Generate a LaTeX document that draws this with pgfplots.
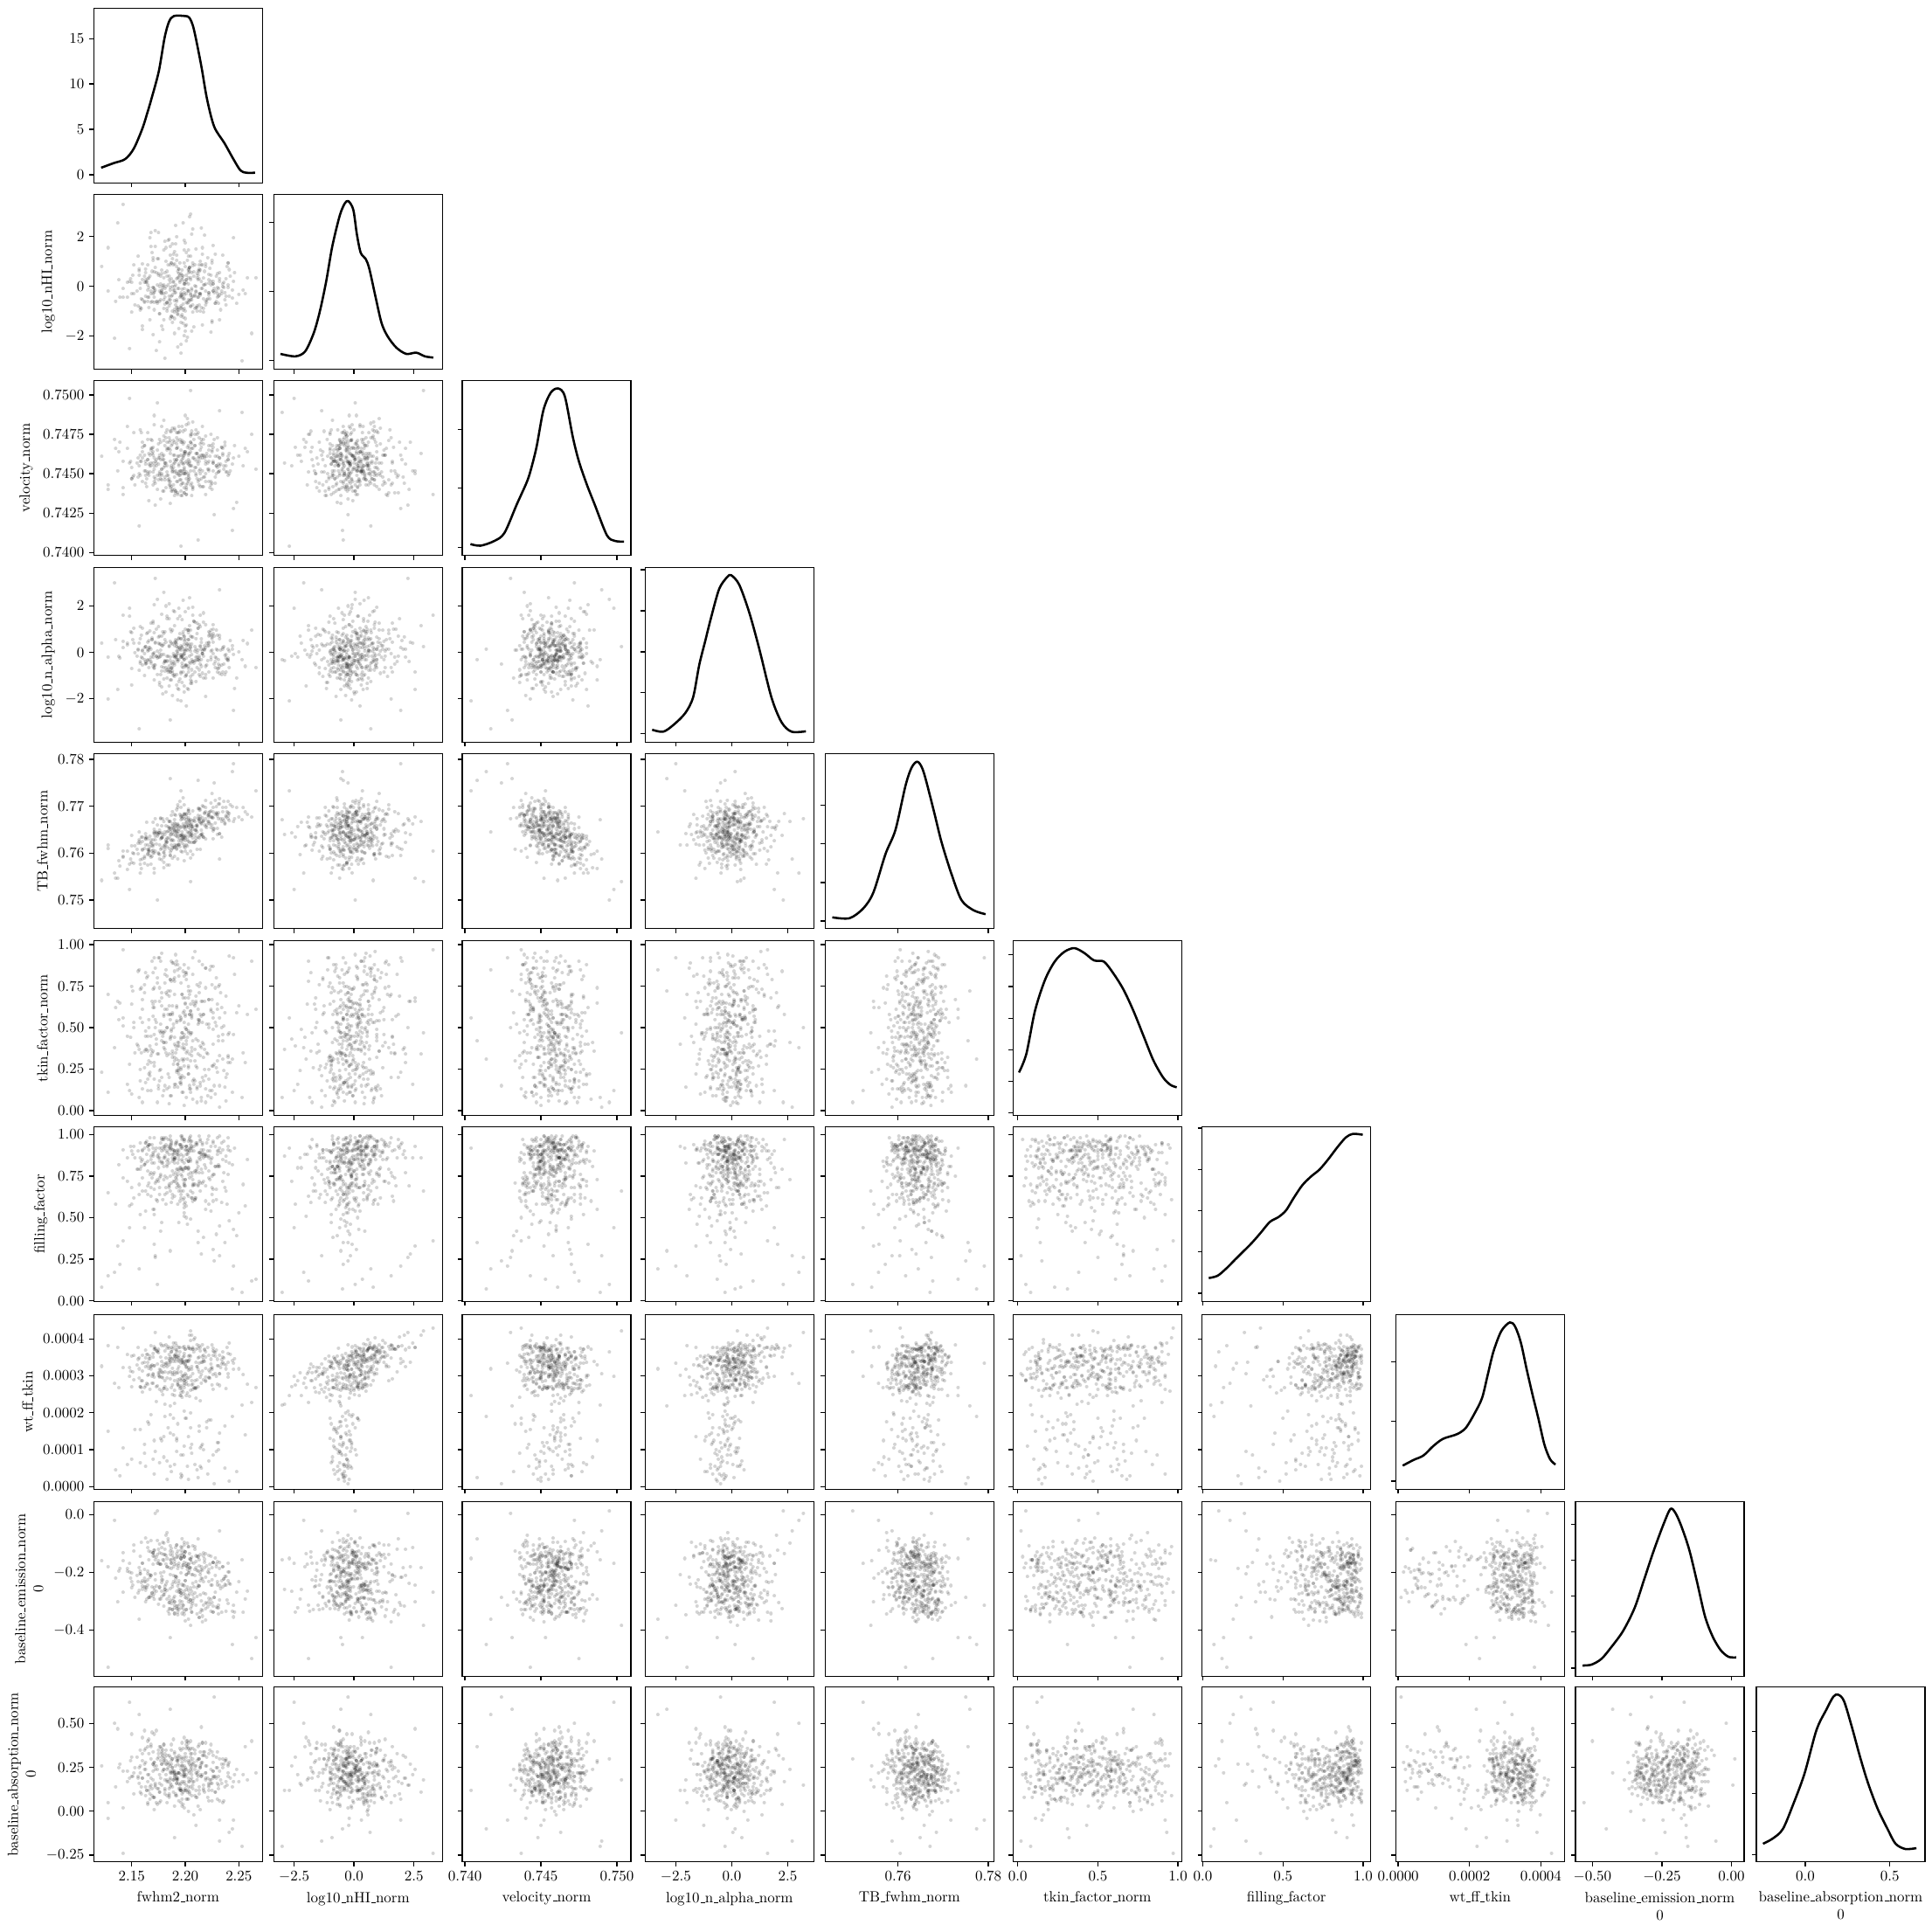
\documentclass[border=0pt]{standalone}
\usepackage{pgfplots}
\usepackage{pgfplotstable}
\pgfplotsset{compat=1.18}
\def\pu{0.59pt}
\newcommand{\us}{\leavevmode\kern.06em\vbox{\hrule width.3em}}
\pgfdeclareplotmark{dot}{\pgfpathmoveto{\pgfqpoint{-0.01pt}{0pt}}\pgfpathlineto{\pgfqpoint{0.01pt}{0pt}}\pgfusepathqstroke}
\pgfplotstableread{
F N V A T K P W E B
2.201 0.28 0.7451 -0.57 0.7665 0.42 0.88 2.84 -0.179 0.21
2.176 -1.12 0.7472 0.35 0.7588 0.18 0.64 3.17 -0.252 0.05
2.213 0.85 0.7446 1.20 0.7695 0.71 0.72 3.81 -0.157 0.12
2.232 -0.35 0.7460 -0.90 0.7641 0.33 0.45 1.45 -0.296 0.30
2.158 0.12 0.7449 0.60 0.7621 0.56 0.79 2.70 -0.145 0.26
2.224 -1.85 0.7475 -0.20 0.7654 0.08 0.93 3.21 -0.334 0.38
2.199 1.45 0.7438 0.15 0.7703 0.88 0.71 2.86 -0.106 0.17
2.158 -0.95 0.7478 -0.48 0.7557 0.25 0.52 0.65 -0.205 0.22
2.206 0.55 0.7455 -1.35 0.7656 0.47 0.62 3.25 -0.337 0.09
2.171 -0.08 0.7481 2.05 0.7558 0.62 0.34 3.78 -0.124 0.44
2.232 0.31 0.7452 0.72 0.7717 0.15 0.81 3.05 -0.246 -0.05
2.193 -2.45 0.7467 -0.05 0.7635 0.39 0.58 2.75 -0.337 0.31
2.187 0.95 0.7442 -0.66 0.7652 0.78 0.92 3.76 -0.168 0.15
2.142 -0.10 0.7441 0.20 0.7591 0.51 0.74 1.05 -0.131 0.02
2.148 0.18 0.7457 1.55 0.7577 0.28 0.57 3.22 -0.200 0.19
2.215 2.35 0.7470 0.42 0.7640 0.66 0.28 3.37 -0.180 0.27
2.198 -0.72 0.7444 0.88 0.7718 0.11 0.87 3.36 -0.315 0.11
2.179 0.02 0.7461 -1.80 0.7640 0.45 0.61 2.49 -0.096 0.35
2.248 -0.70 0.7432 -1.10 0.7697 0.59 0.39 0.40 -0.270 0.24
2.241 0.67 0.7463 0.05 0.7685 0.93 0.83 3.89 -0.239 -0.12
2.167 -1.35 0.7451 -0.32 0.7636 0.21 0.76 2.64 -0.208 0.14
2.202 1.05 0.7485 0.97 0.7599 0.36 0.90 3.38 -0.100 0.40
2.171 -0.20 0.7487 -1.20 0.7568 0.74 0.55 1.25 -0.294 0.28
2.185 0.42 0.7466 0.28 0.7653 0.04 0.69 3.57 -0.185 0.08
2.226 -0.18 0.7457 -1.10 0.7652 0.49 0.67 3.03 -0.317 0.20
2.181 1.80 0.7448 -0.40 0.7613 0.82 0.86 3.11 -0.119 0.33
2.194 -0.95 0.7456 0.62 0.7659 0.30 0.47 3.38 -0.229 0.16
2.138 0.25 0.7464 -0.18 0.7584 0.55 0.82 2.68 -0.195 0.25
2.165 -0.60 0.7472 0.15 0.7575 0.19 0.78 1.75 -0.115 0.04
2.200 0.78 0.7478 1.75 0.7638 0.68 0.73 3.72 -0.368 0.13
2.173 -0.62 0.7459 -0.15 0.7620 0.40 0.92 2.31 -0.147 0.46
2.219 0.08 0.7437 -0.95 0.7712 0.13 0.60 3.50 -0.276 0.18
2.226 0.10 0.7469 -0.05 0.7631 0.87 0.31 0.85 -0.167 0.23
2.203 1.20 0.7462 0.30 0.7691 0.26 0.89 3.53 -0.302 0.07
2.160 -1.60 0.7445 1.05 0.7634 0.61 0.66 2.56 -0.248 0.29
2.197 0.35 0.7452 -0.22 0.7639 0.47 0.79 3.44 -0.113 0.10
2.254 -0.15 0.7455 0.52 0.7697 0.35 0.70 3.03 -0.339 0.21
2.205 -0.82 0.7452 0.05 0.7660 0.72 0.84 1.60 -0.295 0.36
2.208 0.58 0.7460 1.35 0.7670 0.16 0.93 3.98 -0.170 -0.02
2.177 -0.25 0.7434 0.10 0.7675 0.52 0.42 3.16 -0.293 0.19
2.186 1.60 0.7458 -0.85 0.7595 0.44 0.75 2.92 -0.207 0.26
2.186 -0.05 0.7445 -0.85 0.7667 0.09 0.66 1.95 -0.157 0.31
2.164 0.15 0.7442 0.80 0.7666 0.80 0.88 3.58 -0.294 0.12
2.199 -2.00 0.7470 -1.45 0.7617 0.31 0.51 2.68 -0.136 0.42
2.195 0.45 0.7449 0.18 0.7638 0.57 0.80 2.91 -0.260 0.15
2.236 -0.05 0.7453 -0.50 0.7710 0.24 0.77 3.48 -0.222 0.06
2.139 -0.45 0.7470 -0.25 0.7572 0.65 0.22 0.30 -0.186 0.27
2.206 2.10 0.7444 0.68 0.7663 0.38 0.90 4.10 -0.317 0.19
2.152 -0.30 0.7476 0.40 0.7579 0.50 0.62 2.89 -0.126 0.22
2.190 0.90 0.7457 -0.12 0.7672 0.14 0.85 3.47 -0.343 0.34
2.214 -1.00 0.7465 -1.05 0.7608 0.77 0.71 2.32 -0.209 0.01
2.180 0.05 0.7439 2.60 0.7667 0.41 0.73 3.82 -0.098 0.24
2.256 -0.30 0.7466 -0.60 0.7688 0.29 0.57 1.40 -0.292 0.37
2.169 1.35 0.7466 0.55 0.7594 0.90 0.94 3.29 -0.271 0.09
2.228 -0.70 0.7448 -0.20 0.7713 0.53 0.81 3.54 -0.150 0.20
2.194 0.38 0.7480 -1.60 0.7619 0.22 0.69 2.73 -0.239 0.13
2.188 -1.25 0.7451 0.95 0.7644 0.63 0.86 3.21 -0.140 0.30
2.245 0.20 0.7460 -0.08 0.7667 0.46 0.43 3.18 -0.355 0.17
2.215 -0.85 0.7462 -0.30 0.7640 0.06 0.91 1.10 -0.300 0.48
2.204 2.80 0.7463 1.15 0.7667 0.34 0.86 4.10 -0.184 0.11
2.197 -0.12 0.7471 0.25 0.7602 0.70 0.75 2.61 -0.083 0.03
2.157 0.62 0.7455 -0.78 0.7629 0.37 0.64 3.48 -0.263 0.25
2.217 -0.88 0.7442 0.15 0.7699 0.58 0.38 2.89 -0.233 0.32
2.163 -0.40 0.7449 0.25 0.7630 0.17 0.83 0.55 -0.252 0.14
2.182 1.00 0.7476 0.45 0.7625 0.85 0.58 3.35 -0.241 0.21
2.210 -0.22 0.7450 -1.25 0.7658 0.43 0.94 3.36 -0.163 -0.08
2.199 0.10 0.7464 0.35 0.7584 0.27 0.70 2.81 -0.336 0.26
2.170 -1.95 0.7443 -0.10 0.7666 0.64 0.88 3.05 -0.173 0.18
2.223 0.72 0.7461 0.85 0.7663 0.12 0.90 3.10 -0.172 0.35
2.201 0.15 0.7437 -1.00 0.7658 0.79 0.50 1.85 -0.179 0.07
2.203 -0.65 0.7468 1.90 0.7655 0.48 0.80 3.75 -0.282 0.23
2.165 0.30 0.7459 -0.30 0.7618 0.36 0.93 3.27 -0.245 0.40
2.196 -0.28 0.7439 0.60 0.7680 0.55 0.64 2.72 -0.112 0.12
2.216 1.55 0.7452 -0.05 0.7641 0.20 0.77 3.85 -0.372 0.28
2.172 -0.15 0.7458 -0.55 0.7604 0.66 0.27 0.95 -0.206 0.16
2.235 -0.02 0.7466 0.20 0.7697 0.31 0.85 3.37 -0.250 0.05
2.178 0.50 0.7446 -0.62 0.7633 0.95 0.92 2.58 -0.135 0.33
2.198 -1.50 0.7456 0.78 0.7663 0.40 0.78 2.99 -0.315 0.20
2.207 0.82 0.7483 -0.38 0.7597 0.07 0.60 3.72 -0.108 0.13
2.237 -0.55 0.7470 -0.12 0.7665 0.59 0.68 1.65 -0.213 0.29
2.193 0.60 0.7450 0.05 0.7703 0.24 0.88 3.08 -0.247 0.22
2.219 -0.75 0.7458 -1.90 0.7657 0.86 0.55 2.97 -0.216 0.39
2.146 0.15 0.7466 0.32 0.7604 0.45 0.86 3.57 -0.187 0.17
2.183 -0.65 0.7455 -0.35 0.7613 0.13 0.74 0.20 -0.182 0.24
2.185 1.90 0.7470 1.45 0.7610 0.69 0.92 4.05 -0.305 0.10
2.229 -0.18 0.7455 -0.25 0.7686 0.51 0.40 2.98 -0.171 0.31
2.190 -0.92 0.7448 0.45 0.7649 0.32 0.90 2.47 -0.163 -0.15
2.162 0.40 0.7462 -1.00 0.7578 0.76 0.82 3.36 -0.251 0.27
2.192 -1.00 0.7476 0.35 0.7611 0.23 0.68 1.30 -0.326 0.19
2.195 0.95 0.7477 0.12 0.7632 0.54 0.94 3.65 -0.140 0.36
2.181 -2.90 0.7457 -0.35 0.7640 0.37 0.87 2.23 -0.259 0.12
2.212 0.25 0.7445 1.05 0.7695 0.61 0.81 3.18 -0.246 0.23
2.150 -0.30 0.7447 -1.40 0.7580 0.10 0.58 0.75 -0.253 0.44
2.170 1.15 0.7451 -0.22 0.7619 0.83 0.89 3.50 -0.143 0.08
2.227 -0.10 0.7472 0.70 0.7652 0.28 0.76 3.66 -0.288 0.20
2.197 -1.15 0.7436 -1.30 0.7679 0.47 0.84 2.41 -0.133 0.26
2.203 0.55 0.7459 0.55 0.7676 0.72 0.63 3.38 -0.362 0.00
2.217 0.05 0.7469 -0.15 0.7634 0.18 0.91 1.00 -0.133 0.34
2.258 0.35 0.7464 0.38 0.7683 0.58 0.85 2.77 -0.265 0.18
2.178 -0.30 0.7449 -0.08 0.7658 0.42 0.47 3.38 -0.265 0.15
2.200 0.10 0.7487 -0.60 0.7604 0.65 0.73 3.30 -0.128 0.29
2.211 -0.80 0.7447 1.25 0.7657 0.05 0.79 2.89 -0.284 0.21
2.189 1.30 0.7462 -0.15 0.7640 0.89 0.72 3.89 -0.151 0.41
2.153 -0.75 0.7443 0.00 0.7616 0.35 0.86 1.55 -0.287 0.25
2.222 0.48 0.7468 0.90 0.7683 0.50 0.87 2.95 -0.190 0.06
2.194 -1.70 0.7455 0.22 0.7618 0.26 0.66 3.24 -0.329 0.22
2.176 0.00 0.7460 -0.05 0.7618 0.74 0.92 2.99 -0.172 0.37
2.237 -0.25 0.7468 -0.95 0.7662 0.14 0.35 0.50 -0.243 0.14
2.192 0.78 0.7473 0.05 0.7616 0.53 0.88 3.46 -0.106 0.09
2.207 -1.05 0.7441 -0.95 0.7690 0.92 0.70 2.63 -0.298 0.30
2.168 2.15 0.7466 0.15 0.7623 0.29 0.77 3.25 -0.210 0.19
2.199 -0.25 0.7457 -0.30 0.7635 0.60 0.53 2.05 -0.146 0.02
2.214 0.65 0.7450 1.60 0.7679 0.39 0.85 3.77 -0.339 0.25
2.183 -0.68 0.7478 -0.18 0.7575 0.81 0.84 3.34 -0.062 0.32
2.195 0.22 0.7446 -1.15 0.7710 0.20 0.68 2.46 -0.270 0.13
2.142 -0.45 0.7458 0.48 0.7594 0.56 0.91 3.22 -0.160 0.23
2.206 -0.55 0.7436 -0.75 0.7658 0.33 0.62 0.90 -0.207 0.27
2.225 1.05 0.7440 0.60 0.7727 0.67 0.75 3.83 -0.305 0.16
2.187 -1.20 0.7455 -0.70 0.7640 0.09 0.59 2.68 -0.158 0.38
2.198 0.42 0.7469 2.25 0.7638 0.84 0.79 3.50 -0.325 0.04
2.231 -0.10 0.7451 -0.50 0.7674 0.45 0.82 1.20 -0.344 0.20
2.218 0.05 0.7460 0.28 0.7686 0.25 0.87 3.69 -0.155 0.34
2.202 -0.15 0.7444 -1.55 0.7646 0.62 0.46 2.53 -0.251 0.11
2.180 1.45 0.7471 0.82 0.7592 0.38 0.93 3.24 -0.138 0.28
2.233 -0.95 0.7456 0.10 0.7674 0.71 0.89 3.22 -0.257 0.18
2.146 -0.45 0.7480 0.40 0.7565 0.16 0.72 0.60 -0.197 0.23
2.160 0.28 0.7464 -0.25 0.7625 0.53 0.90 3.13 -0.258 0.42
2.209 0.88 0.7454 1.30 0.7667 0.96 0.61 4.03 -0.111 0.09
2.205 -0.35 0.7475 -1.05 0.7590 0.30 0.94 2.00 -0.155 0.26
2.201 -2.20 0.7458 0.40 0.7666 0.49 0.80 2.46 -0.259 0.15
2.196 0.50 0.7443 -0.12 0.7655 0.77 0.93 3.44 -0.262 0.31
2.128 -0.20 0.7440 -0.20 0.7610 0.11 0.65 1.50 -0.180 -0.04
2.215 0.18 0.7467 0.58 0.7649 0.57 0.88 2.81 -0.190 0.20
2.188 1.70 0.7452 -0.50 0.7689 0.34 0.91 3.73 -0.330 0.25
2.250 -0.32 0.7461 0.02 0.7677 0.63 0.53 3.19 -0.233 0.17
2.196 -0.80 0.7458 -0.85 0.7638 0.43 0.79 0.35 -0.122 0.35
2.203 0.70 0.7482 0.95 0.7625 0.22 0.84 2.75 -0.292 0.12
2.193 -0.85 0.7438 1.45 0.7698 0.88 0.70 3.50 -0.187 0.29
2.166 0.32 0.7456 -0.65 0.7604 0.50 0.91 3.04 -0.287 0.21
2.210 -0.20 0.7463 -0.20 0.7627 0.27 0.78 2.39 -0.183 0.08
2.198 2.55 0.7450 -0.85 0.7678 0.68 0.93 3.76 -0.245 0.24
2.162 -0.60 0.7468 -0.05 0.7593 0.36 0.44 1.15 -0.191 0.46
2.222 0.12 0.7445 0.72 0.7681 0.52 0.74 2.96 -0.141 0.14
2.190 -1.30 0.7459 0.30 0.7593 0.80 0.89 3.03 -0.283 0.22
2.171 0.58 0.7453 -0.02 0.7641 0.19 0.67 3.72 -0.144 0.01
2.205 -0.30 0.7474 -1.35 0.7636 0.46 0.92 2.98 -0.185 0.33
2.224 0.20 0.7445 -0.30 0.7690 0.60 0.83 1.80 -0.294 0.18
2.240 0.95 0.7449 0.15 0.7710 0.32 0.76 3.36 -0.198 0.27
2.158 -0.10 0.7462 1.10 0.7576 0.73 0.86 2.71 -0.205 0.11
2.201 -0.65 0.7440 -0.25 0.7683 0.08 0.57 3.39 -0.329 0.38
2.186 1.25 0.7465 0.48 0.7639 0.55 0.94 3.36 -0.137 0.19
2.180 -0.90 0.7484 -0.45 0.7569 0.41 0.81 0.80 -0.278 0.24
2.177 0.40 0.7447 0.35 0.7673 0.90 0.76 3.87 -0.173 0.06
2.196 -1.45 0.7470 -0.90 0.7604 0.25 0.62 2.55 -0.272 0.30
2.230 -0.05 0.7461 0.10 0.7683 0.64 0.90 3.45 -0.163 0.16
2.163 0.15 0.7452 -0.40 0.7618 0.37 0.95 2.73 -0.302 0.36
2.204 -0.58 0.7466 0.15 0.7669 0.15 0.74 2.45 -0.184 0.10
2.189 0.85 0.7443 1.80 0.7654 0.79 0.88 3.79 -0.231 0.23
2.241 -0.40 0.7450 -0.65 0.7669 0.47 0.48 0.15 -0.199 0.28
2.217 0.32 0.7472 -1.10 0.7634 0.58 0.88 3.43 -0.313 0.13
2.199 -0.90 0.7450 -0.05 0.7673 0.03 0.97 3.01 -0.146 0.21
2.169 0.60 0.7463 0.62 0.7616 0.66 0.83 2.99 -0.271 0.45
2.166 -0.05 0.7433 0.10 0.7609 0.30 0.71 1.70 -0.127 0.12
2.191 0.05 0.7439 -0.18 0.7681 0.94 0.94 3.59 -0.224 0.26
2.226 1.65 0.7467 1.00 0.7648 0.40 0.60 3.75 -0.337 0.19
2.203 -0.55 0.7463 -1.60 0.7643 0.52 0.91 1.35 -0.112 0.39
2.197 0.25 0.7480 0.20 0.7630 0.21 0.85 3.02 -0.183 0.07
2.150 -1.05 0.7447 0.85 0.7616 0.75 0.90 3.54 -0.233 0.31
2.212 0.45 0.7460 -0.30 0.7674 0.34 0.42 2.70 -0.146 0.20
2.135 -0.60 0.7466 0.55 0.7547 0.62 0.58 0.45 -0.220 0.14
2.175 1.10 0.7469 0.40 0.7599 0.13 0.80 3.62 -0.160 0.35
2.219 -0.20 0.7445 1.20 0.7688 0.86 0.69 2.85 -0.366 0.22
2.190 -0.58 0.7462 -0.20 0.7664 0.44 0.86 2.25 -0.153 0.03
2.204 0.75 0.7457 -0.42 0.7643 0.58 0.90 3.55 -0.274 0.27
2.165 -0.45 0.7476 0.05 0.7597 0.28 0.64 2.77 -0.095 0.17
2.238 0.30 0.7451 -0.10 0.7677 0.69 0.87 3.30 -0.335 0.29
2.214 -0.30 0.7460 0.30 0.7666 0.17 0.66 1.05 -0.279 0.21
2.200 -1.80 0.7464 0.55 0.7635 0.83 0.59 3.31 -0.128 0.33
2.181 0.55 0.7455 0.90 0.7618 0.48 0.93 3.67 -0.259 0.10
2.209 0.02 0.7459 -0.35 0.7675 0.37 0.78 2.86 -0.211 0.24
2.122 0.80 0.7461 0.40 0.7542 0.23 0.08 3.26 -0.160 0.26
2.266 0.35 0.7453 -0.65 0.7733 0.61 0.13 2.69 -0.427 0.22
2.196 -2.70 0.7404 -2.10 0.7733 0.56 0.92 2.46 -0.152 0.12
2.205 2.90 0.7503 0.25 0.7540 0.47 0.66 4.21 -0.385 0.18
2.134 -2.10 0.7472 3.00 0.7557 0.38 0.17 2.79 -0.019 0.50
2.245 1.95 0.7428 -2.50 0.7791 0.92 0.21 3.34 -0.315 -0.05
2.186 -0.55 0.7431 -2.90 0.7759 0.72 0.30 2.19 -0.427 0.58
2.174 0.05 0.7495 2.30 0.7500 0.05 0.10 3.64 0.012 0.30
2.227 -0.25 0.7424 -0.50 0.7750 0.15 0.24 0.08 -0.288 0.65
2.142 3.30 0.7437 1.60 0.7605 0.97 0.36 4.30 -0.270 -0.24
2.253 -3.00 0.7489 -0.30 0.7671 0.08 0.05 2.21 -0.157 -0.20
2.157 0.70 0.7417 -3.30 0.7645 0.85 0.19 3.19 -0.363 0.55
2.232 -1.35 0.7490 2.70 0.7587 0.02 0.27 3.05 -0.056 -0.17
2.137 2.55 0.7452 -1.60 0.7546 0.66 0.33 3.77 -0.303 0.47
2.262 -1.90 0.7475 0.95 0.7677 0.90 0.12 2.28 -0.500 0.40
2.212 -0.45 0.7408 -0.30 0.7755 0.42 0.35 0.25 -0.085 0.37
2.148 -2.50 0.7498 1.90 0.7523 0.12 0.44 2.98 -0.170 0.62
2.128 1.55 0.7443 -2.00 0.7617 0.70 0.15 3.82 -0.530 0.05
2.244 -0.48 0.7414 0.15 0.7774 0.31 0.07 1.90 -0.450 -0.10
2.172 2.25 0.7430 3.20 0.7674 0.50 0.26 4.18 0.005 0.15
2.203 0.35 0.7450 -0.85 0.7671 0.27 0.84 3.42 -0.172 0.19
2.181 -0.72 0.7468 0.55 0.7596 0.61 0.92 2.87 -0.269 0.31
2.196 -0.35 0.7446 -0.20 0.7678 0.44 0.76 0.85 -0.202 0.16
2.221 1.15 0.7457 0.30 0.7668 0.09 0.97 3.77 -0.319 0.08
2.170 -0.05 0.7462 1.35 0.7628 0.73 0.55 2.80 -0.133 0.27
2.188 -1.45 0.7439 -0.65 0.7658 0.36 0.88 3.03 -0.330 0.22
2.212 0.62 0.7476 0.10 0.7634 0.52 0.69 3.74 -0.146 0.03
2.158 -0.85 0.7458 -0.40 0.7586 0.18 0.95 1.55 -0.195 0.35
2.199 0.10 0.7453 -1.70 0.7682 0.81 0.62 2.87 -0.146 0.12
2.230 -0.30 0.7465 0.75 0.7653 0.30 0.81 3.28 -0.323 0.25
2.184 1.85 0.7449 -0.15 0.7647 0.58 0.93 3.80 -0.084 0.17
2.205 -0.55 0.7470 0.20 0.7604 0.13 0.49 2.61 -0.255 0.40
2.216 -0.10 0.7442 -0.90 0.7701 0.66 0.71 1.15 -0.222 0.21
2.167 0.42 0.7455 0.92 0.7614 0.39 0.98 3.54 -0.288 0.10
2.193 -1.10 0.7461 -0.40 0.7656 0.85 0.79 2.78 -0.127 0.29
2.239 0.80 0.7451 -0.30 0.7689 0.22 0.58 3.77 -0.296 0.15
2.178 -0.20 0.7480 1.65 0.7586 0.48 0.90 2.96 -0.235 0.34
2.202 -0.68 0.7457 0.35 0.7629 0.31 0.64 0.55 -0.190 0.07
2.190 1.40 0.7436 -1.05 0.7682 0.70 0.86 3.55 -0.303 0.23
2.160 -1.75 0.7467 0.05 0.7607 0.05 0.74 2.86 -0.168 0.19
2.226 0.20 0.7458 0.45 0.7697 0.56 0.96 2.64 -0.167 0.28
2.185 -0.40 0.7473 -1.45 0.7575 0.34 0.83 3.30 -0.345 0.13
2.171 -0.45 0.7445 -0.55 0.7645 0.92 0.52 0.35 -0.124 0.26
2.207 0.95 0.7460 1.95 0.7652 0.42 0.77 3.72 -0.208 0.36
2.196 -0.90 0.7452 0.60 0.7638 0.19 0.99 3.34 -0.282 0.05
2.150 0.15 0.7454 -0.70 0.7638 0.64 0.68 2.70 -0.203 0.20
2.218 2.05 0.7448 0.15 0.7660 0.37 0.88 3.38 -0.185 0.32
2.189 0.15 0.7471 -0.05 0.7612 0.50 0.85 1.85 -0.291 0.11
2.174 -0.60 0.7440 -0.95 0.7642 0.77 0.60 3.32 -0.089 0.24
2.211 0.50 0.7463 0.80 0.7661 0.26 0.94 3.85 -0.344 0.18
2.198 -1.25 0.7477 -0.25 0.7631 0.59 0.73 2.57 -0.175 0.30
2.244 -0.15 0.7456 0.30 0.7699 0.11 0.82 3.41 -0.334 0.14
2.180 -0.55 0.7459 -1.15 0.7600 0.47 0.91 1.35 -0.198 0.38
2.163 0.70 0.7444 -0.45 0.7631 0.83 0.66 3.24 -0.232 0.09
2.214 -0.35 0.7469 1.10 0.7638 0.33 0.97 2.96 -0.139 0.25
2.192 1.05 0.7450 -0.10 0.7693 0.54 0.79 3.70 -0.266 0.21
2.176 -2.25 0.7462 0.70 0.7597 0.24 0.86 3.08 -0.292 0.16
2.222 -0.25 0.7453 0.45 0.7678 0.67 0.58 0.70 -0.201 0.33
2.201 0.25 0.7481 -2.30 0.7618 0.40 0.93 3.02 -0.209 0.12
2.185 -0.80 0.7447 0.25 0.7668 0.14 0.70 3.47 -0.325 0.27
2.232 0.55 0.7460 -0.60 0.7641 0.76 0.99 2.74 -0.186 0.06
2.168 1.60 0.7457 1.25 0.7622 0.45 0.63 3.82 -0.210 0.37
2.193 -0.95 0.7437 -0.30 0.7663 0.28 0.89 1.70 -0.147 0.19
2.206 -0.10 0.7466 -1.25 0.7638 0.58 0.75 3.18 -0.337 0.23
2.187 0.30 0.7454 0.40 0.7626 0.90 0.95 3.66 -0.168 0.29
2.159 -0.50 0.7476 -0.20 0.7567 0.35 0.84 2.68 -0.236 0.14
2.224 0.05 0.7443 0.95 0.7707 0.61 0.54 3.32 -0.144 0.24
2.178 -0.15 0.7463 -0.80 0.7632 0.20 0.97 1.25 -0.285 0.31
2.200 -1.60 0.7450 -0.55 0.7632 0.50 0.80 2.91 -0.228 0.12
2.215 0.85 0.7472 0.15 0.7663 0.08 0.87 3.04 -0.330 0.20
2.182 -0.25 0.7441 2.00 0.7658 0.71 0.68 3.84 -0.071 0.35
2.197 0.45 0.7459 -0.15 0.7637 0.38 0.92 3.37 -0.243 0.17
2.209 -0.40 0.7468 0.05 0.7624 0.63 0.61 0.60 -0.191 0.26
2.171 -0.65 0.7455 0.85 0.7651 0.29 0.98 2.97 -0.274 0.08
2.235 1.25 0.7462 -0.85 0.7673 0.46 0.72 3.50 -0.180 0.30
2.190 0.00 0.7478 -0.45 0.7612 0.16 0.85 2.60 -0.323 0.22
2.166 -0.45 0.7449 0.50 0.7606 0.55 0.94 3.47 -0.157 0.41
2.231 -0.70 0.7456 -0.70 0.7686 0.42 0.81 1.00 -0.314 0.15
2.203 0.65 0.7445 0.55 0.7660 0.86 0.76 3.15 -0.172 0.28
2.183 -1.00 0.7466 1.55 0.7632 0.33 0.90 3.24 -0.232 0.18
2.194 0.52 0.7461 -0.32 0.7647 0.41 0.87 3.42 -0.179 0.22
2.210 -0.85 0.7449 0.12 0.7650 0.66 0.77 2.69 -0.313 0.12
2.177 0.10 0.7470 -0.95 0.7609 0.25 0.95 3.51 -0.173 0.29
2.199 -0.50 0.7452 -0.10 0.7657 0.38 0.83 1.10 -0.246 0.20
2.225 0.95 0.7464 0.65 0.7677 0.12 0.68 3.17 -0.185 0.34
2.186 -1.30 0.7443 1.00 0.7646 0.79 0.91 3.11 -0.327 0.16
2.163 0.25 0.7458 -0.50 0.7634 0.48 0.54 3.49 -0.082 0.24
2.206 -0.15 0.7475 0.35 0.7623 0.57 0.96 2.76 -0.267 0.33
2.191 1.70 0.7438 -0.20 0.7646 0.35 0.74 3.72 -0.214 0.09
2.170 -0.30 0.7464 -0.60 0.7615 0.62 0.92 0.75 -0.283 0.27
2.219 -0.60 0.7456 -1.10 0.7674 0.21 0.80 3.20 -0.136 0.19
2.183 0.40 0.7451 1.45 0.7673 0.70 0.65 3.75 -0.262 0.05
2.202 -2.05 0.7467 0.10 0.7615 0.44 0.88 2.95 -0.181 0.37
2.240 0.05 0.7459 -0.35 0.7686 0.29 0.98 2.97 -0.308 0.22
2.172 0.75 0.7447 0.40 0.7628 0.86 0.71 3.75 -0.156 0.14
2.213 -0.75 0.7461 -0.35 0.7673 0.53 0.86 1.50 -0.177 0.30
2.195 -0.45 0.7472 0.80 0.7614 0.17 0.60 2.66 -0.310 0.26
2.228 1.30 0.7444 -0.65 0.7683 0.74 0.93 3.63 -0.270 0.11
2.155 -0.20 0.7457 -0.15 0.7609 0.40 0.79 3.29 -0.210 0.31
2.204 0.60 0.7455 2.35 0.7684 0.58 0.97 3.75 -0.134 0.17
2.188 -1.00 0.7469 -0.80 0.7589 0.32 0.84 2.50 -0.250 0.23
2.181 -0.10 0.7446 -0.40 0.7646 0.15 0.75 1.90 -0.139 0.13
2.216 0.85 0.7480 -0.05 0.7637 0.88 0.89 3.36 -0.332 0.39
2.199 -0.35 0.7441 0.65 0.7682 0.46 0.56 3.61 -0.096 0.21
2.167 1.95 0.7462 0.20 0.7595 0.23 0.94 3.46 -0.218 0.07
2.208 -1.65 0.7452 -0.45 0.7623 0.64 0.70 2.67 -0.250 0.28
2.192 0.30 0.7466 -1.40 0.7647 0.37 0.90 3.54 -0.136 0.18
2.229 -0.60 0.7450 0.15 0.7684 0.80 0.67 0.95 -0.321 0.25
2.179 -0.05 0.7439 0.90 0.7673 0.09 0.83 2.95 -0.156 0.32
2.213 0.70 0.7473 -0.75 0.7633 0.55 0.99 3.50 -0.357 0.10
2.198 -0.95 0.7460 -0.10 0.7633 0.30 0.61 3.35 -0.175 0.36
2.151 0.45 0.7448 0.55 0.7600 0.72 0.88 3.11 -0.244 0.20
2.222 -0.25 0.7458 -0.85 0.7687 0.19 0.78 3.15 -0.231 0.15
2.187 -0.40 0.7477 -1.20 0.7607 0.45 0.94 0.40 -0.118 0.22
2.205 1.20 0.7443 0.95 0.7672 0.60 0.85 3.95 -0.295 0.29
2.174 -0.70 0.7465 -0.25 0.7637 0.34 0.73 2.73 -0.169 0.04
2.236 0.15 0.7455 0.25 0.7669 0.51 0.96 3.31 -0.222 0.27
2.190 -1.90 0.7451 1.15 0.7657 0.78 0.63 3.11 -0.313 0.19
2.160 0.90 0.7470 -0.55 0.7588 0.13 0.91 3.56 -0.168 0.33
2.203 -0.20 0.7448 -0.70 0.7658 0.68 0.80 0.20 -0.262 0.17
2.217 -0.50 0.7462 1.70 0.7668 0.40 0.86 3.55 -0.143 0.12
2.180 0.35 0.7454 -0.10 0.7602 0.57 0.97 2.66 -0.318 0.30
2.196 -1.20 0.7436 0.30 0.7698 0.26 0.66 3.10 -0.152 0.24
2.246 0.55 0.7468 -1.55 0.7674 0.82 0.92 3.47 -0.337 0.21
2.165 -0.15 0.7450 0.45 0.7630 0.45 0.84 3.02 -0.225 0.37
2.192 -0.85 0.7459 -0.20 0.7618 0.31 0.71 1.25 -0.176 0.16
2.210 1.50 0.7478 0.60 0.7632 0.69 0.95 3.72 -0.233 0.26
2.185 -0.55 0.7445 -0.60 0.7655 0.20 0.88 3.42 -0.285 0.09
2.199 0.20 0.7463 0.05 0.7613 0.53 0.58 2.75 -0.126 0.31
2.231 -0.40 0.7451 -0.30 0.7705 0.75 0.90 3.28 -0.324 0.13
2.170 1.05 0.7457 1.25 0.7607 0.36 0.76 3.61 -0.133 0.23
2.214 -0.30 0.7442 -0.50 0.7693 0.58 0.89 0.55 -0.229 0.34
2.193 -0.10 0.7471 -2.05 0.7642 0.14 0.83 3.18 -0.347 0.18
2.178 0.65 0.7453 0.30 0.7611 0.63 0.98 3.82 -0.115 0.27
2.225 -1.40 0.7465 0.75 0.7661 0.27 0.64 2.76 -0.225 0.06
2.201 0.45 0.7447 -0.95 0.7677 0.49 0.93 2.78 -0.289 0.40
2.156 -0.80 0.7460 0.10 0.7598 0.84 0.79 3.45 -0.232 0.19
2.184 0.05 0.7466 -0.85 0.7633 0.22 0.85 1.60 -0.094 0.25
2.207 2.30 0.7440 -0.40 0.7669 0.66 0.69 3.76 -0.238 0.15
2.191 -0.25 0.7458 0.55 0.7659 0.39 0.95 3.52 -0.234 0.31
2.219 0.80 0.7474 0.20 0.7630 0.05 0.87 2.88 -0.326 0.22
2.176 -1.10 0.7450 -1.30 0.7644 0.92 0.74 2.97 -0.132 0.11
2.203 0.10 0.7456 0.85 0.7691 0.47 0.96 3.22 -0.202 0.29
2.162 -0.65 0.7452 0.20 0.7610 0.71 0.82 0.90 -0.231 0.35
2.240 -0.05 0.7461 -0.25 0.7680 0.33 0.91 3.61 -0.168 0.20
2.188 1.10 0.7479 -0.90 0.7611 0.59 0.62 3.46 -0.300 0.14
2.197 -0.45 0.7444 1.40 0.7645 0.11 0.97 2.93 -0.143 0.28
2.211 0.35 0.7463 -0.20 0.7645 0.76 0.84 3.25 -0.254 0.08
2.173 -2.60 0.7455 -0.15 0.7643 0.43 0.72 2.71 -0.267 0.26
2.206 -0.45 0.7469 -0.30 0.7643 0.56 0.93 1.15 -0.167 0.21
2.194 0.70 0.7449 0.60 0.7651 0.24 0.78 3.76 -0.269 0.32
2.183 -0.65 0.7465 -0.75 0.7623 0.50 0.89 2.63 -0.182 0.17
2.222 0.25 0.7452 0.40 0.7667 0.67 0.99 3.55 -0.291 0.12
2.168 -0.30 0.7472 -0.45 0.7577 0.37 0.68 3.19 -0.090 0.30
2.201 1.35 0.7437 0.15 0.7684 0.82 0.85 3.24 -0.329 0.24
2.189 -0.15 0.7456 -1.00 0.7627 0.28 0.76 1.40 -0.211 0.18
2.216 -1.55 0.7460 -0.05 0.7675 0.53 0.94 3.13 -0.192 0.39
2.175 0.50 0.7446 1.10 0.7640 0.15 0.88 3.08 -0.310 0.13
2.234 -0.20 0.7467 -0.55 0.7634 0.62 0.59 3.44 -0.229 0.27
2.199 0.95 0.7454 -0.30 0.7658 0.44 0.96 3.40 -0.266 0.22
2.159 -0.90 0.7458 0.75 0.7634 0.74 0.81 2.86 -0.096 0.10
2.220 -0.55 0.7463 0.40 0.7654 0.35 0.87 1.75 -0.308 0.31
2.186 0.15 0.7441 -1.20 0.7652 0.58 0.92 3.39 -0.107 0.23
2.209 -0.35 0.7475 0.25 0.7639 0.18 0.70 2.66 -0.271 0.35
2.192 2.00 0.7459 0.50 0.7609 0.90 0.95 3.81 -0.216 0.16
2.171 -0.25 0.7448 -0.65 0.7643 0.46 0.83 3.27 -0.254 0.28
2.229 0.40 0.7455 0.95 0.7699 0.26 0.61 3.69 -0.181 0.19
2.197 -0.35 0.7470 -0.45 0.7622 0.70 0.98 0.30 -0.303 0.26
2.180 -1.35 0.7462 0.35 0.7615 0.12 0.86 3.32 -0.158 0.38
2.213 0.60 0.7443 -0.15 0.7693 0.54 0.77 3.10 -0.357 0.14
2.194 -0.10 0.7476 1.90 0.7626 0.39 0.90 3.56 -0.169 0.22
2.165 0.85 0.7451 -0.35 0.7599 0.81 0.93 3.58 -0.205 0.05
2.238 -0.75 0.7458 -0.85 0.7680 0.20 0.66 2.65 -0.245 0.30
2.176 -0.60 0.7449 -0.20 0.7649 0.48 0.84 0.65 -0.252 0.11
2.205 0.25 0.7464 0.70 0.7647 0.64 0.99 3.73 -0.155 0.24
2.190 -1.05 0.7440 -0.55 0.7648 0.30 0.72 2.87 -0.303 0.33
2.224 0.45 0.7468 0.05 0.7678 0.87 0.85 3.45 -0.244 0.16
2.182 0.00 0.7457 -1.70 0.7629 0.41 0.94 3.30 -0.141 0.27
2.200 1.75 0.7450 1.00 0.7651 0.57 0.69 3.72 -0.278 0.20
2.211 -0.85 0.7458 -0.65 0.7659 0.13 0.95 0.45 -0.194 0.29
2.189 0.20 0.7454 -0.40 0.7651 0.52 0.91 3.39 -0.181 0.18
2.207 -0.75 0.7466 0.65 0.7632 0.18 0.73 2.78 -0.308 0.27
2.174 1.10 0.7449 0.05 0.7660 0.80 0.87 3.68 -0.139 0.13
2.198 -0.50 0.7461 -0.65 0.7628 0.44 0.66 0.85 -0.275 0.23
2.226 -0.20 0.7457 1.20 0.7676 0.27 0.95 3.55 -0.167 0.32
2.183 0.60 0.7470 -1.10 0.7625 0.61 0.82 2.94 -0.292 0.09
2.201 -1.55 0.7441 0.30 0.7657 0.35 0.93 3.23 -0.169 0.36
2.165 0.05 0.7459 0.85 0.7608 0.12 0.69 3.36 -0.195 0.21
2.219 0.90 0.7450 -0.60 0.7697 0.74 0.88 3.66 -0.306 0.26
2.186 -0.70 0.7463 -0.35 0.7630 0.58 0.97 1.45 -0.127 0.14
2.193 0.35 0.7476 0.20 0.7588 0.41 0.76 2.89 -0.327 0.30
2.238 -0.40 0.7455 -0.25 0.7698 0.06 0.84 3.19 -0.215 0.17
2.172 1.60 0.7444 0.45 0.7637 0.55 0.90 3.72 -0.226 0.24
2.209 -0.90 0.7468 -0.85 0.7650 0.30 0.62 2.67 -0.121 0.33
2.195 0.15 0.7452 1.55 0.7683 0.86 0.94 3.77 -0.300 0.12
2.215 -0.10 0.7447 -0.60 0.7665 0.38 0.79 0.50 -0.220 0.28
2.160 -0.55 0.7460 0.10 0.7609 0.67 0.85 3.35 -0.228 0.19
2.230 0.50 0.7473 -0.70 0.7640 0.23 0.98 2.77 -0.233 0.07
2.187 -1.20 0.7439 0.90 0.7681 0.48 0.71 3.47 -0.308 0.35
2.204 0.75 0.7458 0.35 0.7623 0.13 0.92 3.44 -0.154 0.22
2.178 -0.25 0.7453 -1.50 0.7634 0.71 0.83 3.27 -0.225 0.27
2.222 -0.35 0.7465 0.30 0.7665 0.25 0.86 1.80 -0.301 0.16
2.192 1.25 0.7445 -0.30 0.7652 0.62 0.96 3.66 -0.106 0.29
2.169 -0.60 0.7471 0.55 0.7605 0.35 0.74 2.80 -0.251 0.13
2.213 0.30 0.7452 -0.95 0.7668 0.90 0.89 3.35 -0.247 0.38
2.196 -2.35 0.7462 -0.20 0.7657 0.16 0.80 2.86 -0.322 0.21
2.152 0.85 0.7449 1.05 0.7599 0.53 0.93 3.55 -0.106 0.10
2.205 -0.80 0.7455 -0.45 0.7652 0.60 0.77 1.05 -0.305 0.31
2.235 0.10 0.7463 0.15 0.7689 0.42 0.91 3.64 -0.180 0.25
2.181 -0.45 0.7457 -0.80 0.7608 0.77 0.64 2.71 -0.249 0.18
2.199 1.85 0.7438 0.70 0.7684 0.20 0.97 3.80 -0.346 0.23
2.170 -0.05 0.7467 -0.05 0.7600 0.57 0.87 3.03 -0.133 0.34
2.217 -1.05 0.7448 1.30 0.7669 0.32 0.72 3.40 -0.273 0.15
2.190 -0.25 0.7470 -0.95 0.7618 0.84 0.90 0.60 -0.173 0.20
2.163 0.55 0.7456 0.25 0.7641 0.45 0.95 3.69 -0.262 0.28
2.228 -0.70 0.7461 -0.40 0.7665 0.10 0.81 3.06 -0.210 0.11
2.185 0.25 0.7443 2.10 0.7668 0.63 0.68 3.75 -0.305 0.32
2.206 -1.80 0.7477 -0.10 0.7639 0.36 0.92 2.88 -0.147 0.25
2.194 0.70 0.7451 -1.25 0.7618 0.81 0.85 3.49 -0.259 0.06
2.177 -0.55 0.7459 -0.15 0.7630 0.47 0.75 1.30 -0.203 0.37
2.242 0.40 0.7452 0.50 0.7704 0.29 0.90 3.59 -0.241 0.19
2.180 -0.30 0.7474 -0.65 0.7581 0.58 0.98 2.66 -0.278 0.29
2.203 1.45 0.7446 0.95 0.7694 0.75 0.79 3.80 -0.202 0.14
2.166 -0.85 0.7463 0.20 0.7603 0.22 0.94 3.20 -0.287 0.33
2.210 0.00 0.7454 -0.35 0.7649 0.65 0.62 2.66 -0.143 0.22
2.196 -0.40 0.7450 0.10 0.7671 0.17 0.88 0.25 -0.272 0.12
2.187 0.95 0.7468 -0.45 0.7618 0.49 0.96 3.64 -0.188 0.27
2.223 -0.50 0.7441 0.75 0.7689 0.85 0.73 2.94 -0.312 0.18
2.175 2.15 0.7456 -0.20 0.7643 0.34 0.86 3.71 -0.120 0.31
2.200 -1.30 0.7464 -1.05 0.7612 0.58 0.91 3.06 -0.288 0.24
2.157 0.45 0.7450 0.40 0.7625 0.08 0.70 2.94 -0.183 0.16
2.220 -0.65 0.7461 -0.55 0.7660 0.52 0.95 1.60 -0.178 0.26
2.190 -0.15 0.7479 1.75 0.7613 0.40 0.83 3.53 -0.343 0.21
2.204 0.75 0.7447 -0.15 0.7664 0.70 0.98 3.18 -0.194 0.35
2.171 -0.95 0.7460 -0.70 0.7600 0.27 0.77 3.28 -0.264 0.08
2.232 0.20 0.7455 0.60 0.7705 0.56 0.92 3.56 -0.166 0.23
2.188 -0.35 0.7440 -1.85 0.7663 0.89 0.64 2.76 -0.240 0.30
2.168 -0.20 0.7465 -0.20 0.7591 0.33 0.85 1.95 -0.280 0.15
2.214 1.00 0.7453 0.25 0.7674 0.15 0.96 3.68 -0.199 0.26
2.192 -0.55 0.7469 -0.95 0.7636 0.63 0.75 3.08 -0.146 0.19
2.149 0.30 0.7458 0.90 0.7587 0.44 0.93 3.12 -0.221 0.29
2.225 -1.45 0.7444 0.10 0.7676 0.76 0.86 3.22 -0.245 0.12
2.197 0.65 0.7457 -0.60 0.7674 0.31 0.99 3.41 -0.343 0.39
2.183 -0.90 0.7449 -0.40 0.7646 0.50 0.81 0.70 -0.152 0.27
2.208 0.40 0.7472 1.35 0.7623 0.19 0.90 3.64 -0.290 0.17
2.176 -0.20 0.7451 -1.40 0.7643 0.66 0.68 2.64 -0.102 0.21
2.216 1.30 0.7462 0.05 0.7667 0.41 0.95 3.52 -0.352 0.32
2.191 -0.75 0.7439 0.45 0.7638 0.88 0.77 3.40 -0.214 0.10
2.162 0.15 0.7468 -0.30 0.7590 0.26 0.92 2.69 -0.221 0.24
2.230 -0.45 0.7454 -0.85 0.7679 0.61 0.88 1.20 -0.243 0.34
2.199 -0.10 0.7462 0.50 0.7654 0.37 0.69 3.54 -0.166 0.16
2.184 0.85 0.7446 -0.75 0.7656 0.72 0.97 3.08 -0.334 0.28
2.211 -1.00 0.7475 0.00 0.7608 0.14 0.83 3.25 -0.144 0.22
2.173 0.55 0.7457 1.00 0.7646 0.53 0.61 3.68 -0.247 0.05
2.201 -0.30 0.7443 -0.55 0.7671 0.83 0.91 3.42 -0.209 0.31
2.192 -0.60 0.7466 0.25 0.7644 0.24 0.73 0.95 -0.316 0.18
2.240 0.95 0.7459 -0.30 0.7673 0.46 0.93 3.05 -0.228 0.26
2.178 -1.60 0.7450 0.70 0.7643 0.68 0.84 3.11 -0.215 0.36
2.205 0.35 0.7470 -1.20 0.7640 0.11 0.96 3.53 -0.325 0.14
2.188 0.00 0.7453 0.35 0.7628 0.58 0.78 3.09 -0.130 0.25
2.156 1.20 0.7448 0.15 0.7621 0.39 0.90 3.76 -0.272 0.20
2.213 -0.30 0.7458 -0.25 0.7671 0.75 0.89 1.65 -0.247 0.30
2.196 -0.85 0.7465 -0.10 0.7626 0.20 0.94 2.67 -0.152 0.13
2.226 0.10 0.7452 0.80 0.7688 0.59 0.76 3.67 -0.337 0.23
2.182 1.55 0.7473 -0.65 0.7622 0.35 0.98 3.48 -0.171 0.29
2.207 -0.40 0.7442 1.60 0.7656 0.82 0.65 3.06 -0.278 0.17
2.168 -0.65 0.7455 -0.40 0.7628 0.12 0.87 3.27 -0.130 0.38
2.186 -0.15 0.7471 -0.75 0.7602 0.43 0.99 0.55 -0.257 0.22
2.218 0.60 0.7461 0.10 0.7684 0.66 0.82 3.73 -0.165 0.11
2.193 -1.15 0.7445 -1.55 0.7660 0.28 0.91 2.83 -0.317 0.27
2.175 0.45 0.7460 0.65 0.7600 0.92 0.72 3.02 -0.170 0.33
2.234 -0.30 0.7467 -0.95 0.7667 0.50 0.95 3.33 -0.339 0.16
2.191 2.45 0.7452 0.40 0.7663 0.16 0.86 3.89 -0.114 0.21
2.200 -1.00 0.7463 0.05 0.7627 0.64 0.80 1.85 -0.228 0.25
2.164 0.20 0.7447 -0.45 0.7634 0.37 0.96 2.79 -0.254 0.12
2.212 -0.45 0.7456 1.05 0.7680 0.55 0.70 3.49 -0.196 0.30
2.186 0.85 0.7477 -0.20 0.7596 0.79 0.93 3.50 -0.297 0.18
2.203 -0.20 0.7449 -0.60 0.7637 0.22 0.84 2.94 -0.112 0.36
2.179 -1.75 0.7459 0.30 0.7635 0.47 0.97 3.09 -0.226 0.23
2.221 -0.50 0.7453 -0.35 0.7681 0.34 0.90 0.35 -0.199 0.19
}\samples

\pgfplotsset{
 panel/.style={scale only axis, width=193*\pu, height=200*\pu, anchor=north west,
   tick align=outside, tick pos=left, xticklabels={}, yticklabels={},
   major tick length=3pt, every tick/.style={black, line width=0.8pt},
   axis line style={line width=0.8pt}, xlabel style={align=center}, ylabel style={align=center},
   scaled ticks=false},
 scat/.style={only marks, mark=dot, black, line width=2.4pt, line cap=round, opacity=0.17},
 kde/.style={black, line width=1.5pt, smooth, no marks, line join=round},
 xF/.style={xmin=2.1146, xmax=2.272, xtick={2.15,2.2,2.25}},
 lxF/.style={xticklabels={$2.15$,$2.20$,$2.25$}, xlabel={fwhm2\us norm}},
 xN/.style={xmin=-3.35, xmax=3.69, xtick={-2.5,0,2.5}},
 yN/.style={ymin=-3.35, ymax=3.69, ytick={-2,0,2}},
 lxN/.style={xticklabels={$-2.5$,$0.0$,$2.5$}, xlabel={log10\us nHI\us norm}},
 lyN/.style={yticklabels={$-2$,$0$,$2$}, ylabel={log10\us nHI\us norm}},
 xV/.style={xmin=0.73982, xmax=0.75092, xtick={0.74,0.745,0.75}},
 yV/.style={ymin=0.73982, ymax=0.75092, ytick={0.74,0.7425,0.745,0.7475,0.75}},
 lxV/.style={xticklabels={$0.740$,$0.745$,$0.750$}, xlabel={velocity\us norm}},
 lyV/.style={yticklabels={$0.7400$,$0.7425$,$0.7450$,$0.7475$,$0.7500$}, ylabel={velocity\us norm}},
 xA/.style={xmin=-3.87, xmax=3.665, xtick={-2.5,0,2.5}},
 yA/.style={ymin=-3.87, ymax=3.665, ytick={-2,0,2}},
 lxA/.style={xticklabels={$-2.5$,$0.0$,$2.5$}, xlabel={log10\us n\us alpha\us norm}},
 lyA/.style={yticklabels={$-2$,$0$,$2$}, ylabel={log10\us n\us alpha\us norm}},
 xT/.style={xmin=0.7439, xmax=0.7812, xtick={0.76,0.78}},
 yT/.style={ymin=0.7439, ymax=0.7812, ytick={0.75,0.76,0.77,0.78}},
 lxT/.style={xticklabels={$0.76$,$0.78$}, xlabel={TB\us fwhm\us norm}},
 lyT/.style={yticklabels={$0.75$,$0.76$,$0.77$,$0.78$}, ylabel={TB\us fwhm\us norm}},
 xK/.style={xmin=-0.030, xmax=1.023, xtick={0,0.5,1}},
 yK/.style={ymin=-0.030, ymax=1.023, ytick={0,0.25,0.5,0.75,1}},
 lxK/.style={xticklabels={$0.0$,$0.5$,$1.0$}, xlabel={tkin\us factor\us norm}},
 lyK/.style={yticklabels={$0.00$,$0.25$,$0.50$,$0.75$,$1.00$}, ylabel={tkin\us factor\us norm}},
 xP/.style={xmin=-0.004, xmax=1.048, xtick={0,0.5,1}},
 yP/.style={ymin=-0.004, ymax=1.048, ytick={0,0.25,0.5,0.75,1}},
 lxP/.style={xticklabels={$0.0$,$0.5$,$1.0$}, xlabel={filling\us factor}},
 lyP/.style={yticklabels={$0.00$,$0.25$,$0.50$,$0.75$,$1.00$}, ylabel={filling\us factor}},
 xW/.style={xmin=-0.07, xmax=4.66, xtick={0,2,4}},
 yW/.style={ymin=-0.07, ymax=4.66, ytick={0,1,2,3,4}},
 lxW/.style={xticklabels={$0.0000$,$0.0002$,$0.0004$}, xlabel={wt\us ff\us tkin}},
 lyW/.style={yticklabels={$0.0000$,$0.0001$,$0.0002$,$0.0003$,$0.0004$}, ylabel={wt\us ff\us tkin}},
 xE/.style={xmin=-0.5606, xmax=0.0455, xtick={-0.5,-0.25,0}},
 yE/.style={ymin=-0.5606, ymax=0.0455, ytick={-0.4,-0.2,0}},
 lxE/.style={xticklabels={$-0.50$,$-0.25$,$0.00$}, xlabel={baseline\us emission\us norm\\0}},
 lyE/.style={yticklabels={$-0.4$,$-0.2$,$0.0$}, ylabel={baseline\us emission\us norm\\0}},
 xB/.style={xmin=-0.289, xmax=0.708, xtick={0,0.5}},
 yB/.style={ymin=-0.289, ymax=0.708, ytick={-0.25,0,0.25,0.5}},
 lxB/.style={xticklabels={$0.0$,$0.5$}, xlabel={baseline\us absorption\us norm\\0}},
 lyB/.style={yticklabels={$-0.25$,$0.00$,$0.25$,$0.50$}, ylabel={baseline\us absorption\us norm\\0}},
 dg/.style={ymin=0, ymax=200},
}

\newcommand{\scat}[5]{%
\begin{axis}[panel, at={(#1*\pu,-#2*\pu)}, x#3, y#4, #5]
\addplot[scat] table[x=#3,y=#4]{\samples};
\end{axis}}

\begin{document}
\begin{tikzpicture}
\path (0,0) rectangle (2211*\pu,-2211*\pu);
% diagonals
\begin{axis}[panel, at={(107.3*\pu,-9.3*\pu)}, xF, ymin=-0.9, ymax=18.37, ytick={0,5,10,15}, yticklabels={$0$,$5$,$10$,$15$}]
\addplot[kde] coordinates {(2.1215,0.77) (2.1332,1.28) (2.144,1.73) (2.152,2.89) (2.160,5.1) (2.1644,6.74) (2.1684,8.35) (2.1753,11.4) (2.1807,15.1) (2.1848,16.86) (2.1894,17.5) (2.1997,17.5) (2.2039,17.3) (2.208,16.05) (2.2148,12.1) (2.2203,8.35) (2.227,5.3) (2.2365,3.5) (2.2447,1.77) (2.2515,0.48) (2.257,0.22) (2.2651,0.22)};
\end{axis}
\begin{axis}[panel, at={(313.3*\pu,-222.7*\pu)}, xN, dg, ytick={10.1,89.1,168.1}]
\addplot[kde] coordinates {(-3.07,17.7) (-2.45,14.9) (-2.04,20.6) (-1.68,41.7) (-1.42,67.1) (-1.16,100.9) (-0.91,140.4) (-0.60,175.6) (-0.39,189.7) (-0.24,192.6) (-0.03,182.7) (0.12,154.5) (0.28,133.4) (0.49,126.3) (0.64,115) (0.89,84) (1.15,53) (1.41,37.5) (1.77,24.8) (2.18,17.7) (2.60,19.1) (2.96,14.9) (3.31,13.5)};
\end{axis}
\begin{axis}[panel, at={(529*\pu,-435.5*\pu)}, xV, dg, ytick={8.7,76.7,144.2}]
\addplot[kde] coordinates {(0.74036,12.9) (0.74102,11) (0.74194,16.5) (0.74260,25.7) (0.74340,57.9) (0.74405,83) (0.74432,97) (0.74471,124) (0.74516,166) (0.74564,186) (0.74612,191) (0.74657,182) (0.74709,136) (0.74749,108) (0.74802,81) (0.74854,58) (0.74934,23) (0.74987,16.5) (0.75047,15.6)};
\end{axis}
\begin{axis}[panel, at={(738.3*\pu,-649.3*\pu)}, xA, dg, ytick={9.6,56.5,103.3,150.2,197.4}]
\addplot[kde] coordinates {(-3.556,14.2) (-3.071,11.9) (-2.624,19.3) (-2.085,33) (-1.726,51.4) (-1.456,88) (-1.186,115.7) (-0.919,143) (-0.561,175.4) (-0.202,189) (-0.022,191) (0.337,180) (0.786,148) (1.232,106.5) (1.771,51.4) (2.220,23) (2.669,12) (3.314,12.4)};
\end{axis}
\begin{axis}[panel, at={(944.3*\pu,-862.7*\pu)}, xT, dg, ytick={8.7,52.8,96.9,141.4}]
\addplot[kde] coordinates {(0.74548,12.9) (0.74929,11.9) (0.75238,23.4) (0.75460,41.8) (0.75725,85.4) (0.75945,113) (0.76167,163.5) (0.76300,184) (0.76433,191) (0.76566,179.5) (0.76787,136) (0.76964,99) (0.77185,62.4) (0.77406,32.6) (0.77672,21) (0.77938,16.5)};
\end{axis}
\begin{axis}[panel, at={(1159.3*\pu,-1076.7*\pu)}, xK, dg, ytick={3,39.1,75.3,111.5,147.7,183.9}]
\addplot[kde] coordinates {(0.007,49.3) (0.053,70.5) (0.107,119.8) (0.169,155) (0.230,176.2) (0.291,187.5) (0.353,191.7) (0.415,186.1) (0.476,177.6) (0.538,176.2) (0.599,162.1) (0.661,143.8) (0.722,119.8) (0.784,91.6) (0.846,63.4) (0.907,43.7) (0.953,35.2) (0.992,32.4)};
\end{axis}
\begin{axis}[panel, at={(1375.7*\pu,-1289.3*\pu)}, xP, dg, ytick={9.3,57,104,151,198.3}]
\addplot[kde] coordinates {(0.0375,26.7) (0.092,29.3) (0.147,37.7) (0.201,47.7) (0.256,57.7) (0.310,67.7) (0.365,79.3) (0.419,91) (0.474,96.7) (0.520,104.3) (0.565,117.7) (0.620,132.7) (0.674,142.7) (0.729,151) (0.783,162.7) (0.838,176) (0.893,187.7) (0.937,191.7) (0.998,190.7)};
\end{axis}
\begin{axis}[panel, at={(1597.3*\pu,-1504.3*\pu)}, xW, dg, ytick={9.3,77.6,146}]
\addplot[kde] coordinates {(0.125,27) (0.432,33.6) (0.706,38.6) (0.978,49.3) (1.25,57.6) (1.58,62) (1.74,65) (1.91,71) (2.13,86) (2.35,104.3) (2.51,131) (2.67,157.6) (2.89,181) (3.13,191) (3.28,186) (3.44,167.6) (3.60,137.6) (3.77,107.6) (3.93,81) (4.10,51) (4.26,34.3) (4.41,28.3)};
\end{axis}
\begin{axis}[panel, at={(1803*\pu,-1718.3*\pu)}, xE, dg, ytick={9.3,51,91.6,133,174}]
\addplot[kde] coordinates {(-0.535,12.3) (-0.503,13.3) (-0.467,20) (-0.432,33.3) (-0.390,51.6) (-0.348,78.3) (-0.313,111.6) (-0.278,145) (-0.243,175) (-0.219,191.6) (-0.201,186.6) (-0.180,171.6) (-0.152,145) (-0.124,108.3) (-0.095,68.3) (-0.067,45) (-0.039,30) (-0.011,22.3) (0.017,21.6)};
\end{axis}
\begin{axis}[panel, at={(2010*\pu,-1930.7*\pu)}, xB, dg, ytick={8.4,78.4,149}, lxB]
\addplot[kde] coordinates {(-0.250,20.7) (-0.192,26.7) (-0.133,37.4) (-0.075,64) (-0.005,100.7) (0.066,150.7) (0.124,174) (0.166,189) (0.194,191.4) (0.229,184) (0.276,154) (0.323,120.7) (0.370,90.7) (0.428,60.7) (0.487,37.4) (0.534,20.7) (0.592,14.7) (0.657,15.7)};
\end{axis}
% scatter panels
\scat{107.3}{222.7}{F}{N}{lyN}
\scat{107.3}{435.5}{F}{V}{lyV}
\scat{313.3}{435.5}{N}{V}{}
\scat{107.3}{649.3}{F}{A}{lyA}
\scat{313.3}{649.3}{N}{A}{}
\scat{529}{649.3}{V}{A}{}
\scat{107.3}{862.7}{F}{T}{lyT}
\scat{313.3}{862.7}{N}{T}{}
\scat{529}{862.7}{V}{T}{}
\scat{738.3}{862.7}{A}{T}{}
\scat{107.3}{1076.7}{F}{K}{lyK}
\scat{313.3}{1076.7}{N}{K}{}
\scat{529}{1076.7}{V}{K}{}
\scat{738.3}{1076.7}{A}{K}{}
\scat{944.3}{1076.7}{T}{K}{}
\scat{107.3}{1289.3}{F}{P}{lyP}
\scat{313.3}{1289.3}{N}{P}{}
\scat{529}{1289.3}{V}{P}{}
\scat{738.3}{1289.3}{A}{P}{}
\scat{944.3}{1289.3}{T}{P}{}
\scat{1159.3}{1289.3}{K}{P}{}
\scat{107.3}{1504.3}{F}{W}{lyW}
\scat{313.3}{1504.3}{N}{W}{}
\scat{529}{1504.3}{V}{W}{}
\scat{738.3}{1504.3}{A}{W}{}
\scat{944.3}{1504.3}{T}{W}{}
\scat{1159.3}{1504.3}{K}{W}{}
\scat{1375.7}{1504.3}{P}{W}{}
\scat{107.3}{1718.3}{F}{E}{lyE}
\scat{313.3}{1718.3}{N}{E}{}
\scat{529}{1718.3}{V}{E}{}
\scat{738.3}{1718.3}{A}{E}{}
\scat{944.3}{1718.3}{T}{E}{}
\scat{1159.3}{1718.3}{K}{E}{}
\scat{1375.7}{1718.3}{P}{E}{}
\scat{1597.3}{1718.3}{W}{E}{}
\scat{107.3}{1930.7}{F}{B}{lxF,lyB}
\scat{313.3}{1930.7}{N}{B}{lxN}
\scat{529}{1930.7}{V}{B}{lxV}
\scat{738.3}{1930.7}{A}{B}{lxA}
\scat{944.3}{1930.7}{T}{B}{lxT}
\scat{1159.3}{1930.7}{K}{B}{lxK}
\scat{1375.7}{1930.7}{P}{B}{lxP}
\scat{1597.3}{1930.7}{W}{B}{lxW}
\scat{1803}{1930.7}{E}{B}{lxE}
\end{tikzpicture}
\end{document}
